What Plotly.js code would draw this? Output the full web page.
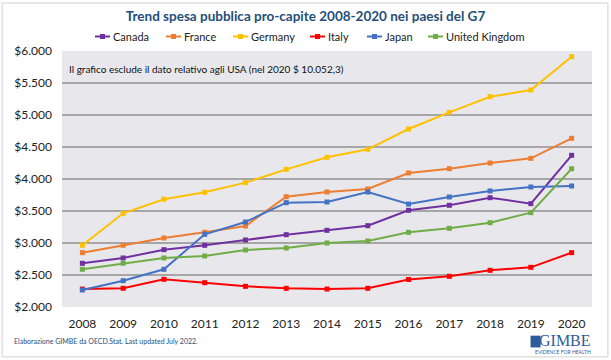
<!DOCTYPE html>
<html><head><meta charset="utf-8">
<script src="https://cdn.plot.ly/plotly-3.0.1.min.js"></script>
<style>html,body{margin:0;padding:0;background:#fff}#chart{width:611px;height:360px}</style>
</head><body><div id="chart"></div>
<script>
const years = ['2008','2009','2010','2011','2012','2013','2014','2015','2016','2017','2018','2019','2020'];
const canada  = [2683,2766,2896,2964,3047,3130,3198,3271,3511,3589,3708,3615,4370];
const france  = [2849,2964,3078,3167,3266,3724,3797,3844,4094,4161,4250,4323,4636];
const germany = [2965,3464,3683,3792,3943,4151,4339,4464,4781,5042,5286,5391,5911];
const italy   = [2280,2292,2433,2380,2323,2292,2281,2292,2430,2480,2573,2620,2849];
const japan   = [2266,2411,2589,3136,3328,3630,3641,3797,3609,3719,3813,3875,3891];
const uk      = [2589,2683,2766,2797,2891,2922,3000,3031,3167,3229,3317,3474,4161];
const seriesNames = ['Canada','France','Germany','Italy','Japan','United Kingdom'];
const seriesData = [canada, france, germany, italy, japan, uk];
const colors = ['#7030A0','#ED7D31','#FFC000','#FF0000','#4472C4','#70AD47'];
const yTicks = [2000,2500,3000,3500,4000,4500,5000,5500,6000];
const yTickText = ['$2.000','$2.500','$3.000','$3.500','$4.000','$4.500','$5.000','$5.500','$6.000'];

const traces = seriesNames.map((n,i)=>({
  type:'scatter', mode:'lines+markers', name:n, x:years, y:seriesData[i],
  line:{color:colors[i], width:2}, marker:{symbol:'square', size:5, color:colors[i]}
}));

// layout geometry (pixels)
const W = 611, H = 360, ML = 62, MR = 19, MT = 51, MB = 53;
const PW = W - ML - MR, PH = H - MT - MB;
const px = x => (x - ML) / PW;
const py = y => (H - MB - y) / PH;

// custom compact legend (Excel style): symbol start pixel per entry
const legendSymbolX = [95, 166, 233, 310, 367, 428];
const legendY = 36.5;
const legendShapes = [], legendAnn = [];
seriesNames.forEach((n,i)=>{
  const sx = legendSymbolX[i];
  legendShapes.push({type:'line', xref:'paper', yref:'paper', x0:px(sx), x1:px(sx+15), y0:py(legendY), y1:py(legendY), line:{color:colors[i], width:2}});
  legendShapes.push({type:'rect', xref:'paper', yref:'paper', x0:px(sx+5), x1:px(sx+10), y0:py(legendY+2.5), y1:py(legendY-2.5), line:{width:0}, fillcolor:colors[i]});
  legendAnn.push({xref:'paper', yref:'paper', x:px(sx+16), y:py(legendY), xanchor:'left', yanchor:'middle', showarrow:false, text:n, font:{family:"Lato, 'Open Sans', sans-serif", size:11, color:'#222'}});
});

const font = "Lato, 'Open Sans', sans-serif";
const layout = {
  width:W, height:H,
  margin:{l:ML, r:MR, t:MT, b:MB},
  paper_bgcolor:'#ffffff', plot_bgcolor:'#E8E8EC',
  font:{family:font, size:12, color:'#222'},
  title:{text:'<b>Trend spesa pubblica pro-capite 2008-2020 nei paesi del G7</b>', font:{family:font, size:13.5, color:'#1F4E79'}, x:0.5, xanchor:'center', y:0.955, yanchor:'middle'},
  showlegend:false,
  xaxis:{type:'category', range:[-0.5,12.5], showgrid:false, zeroline:false, ticks:'', tickfont:{size:12, color:'#222'}, ticklabelstandoff:8, fixedrange:true},
  yaxis:{range:[2000,6000], tickmode:'array', tickvals:yTicks, ticktext:yTickText, showgrid:true, gridcolor:'#A6A6A6', gridwidth:2, zeroline:false, ticks:'', tickfont:{size:12, color:'#222'}, ticklabelstandoff:9},
  annotations:[
    {xref:'paper', yref:'paper', x:0.01, y:0.93, xanchor:'left', yanchor:'middle', showarrow:false, text:'Il grafico esclude il dato relativo agli USA (nel 2020 $ 10.052,3)', font:{family:font, size:10, color:'#111'}},
    {xref:'paper', yref:'paper', x:-0.095, y:-0.133, xanchor:'left', yanchor:'middle', showarrow:false, text:'Elaborazione GIMBE da OECD.Stat. Last updated July 2022.', font:{family:font, size:7, color:'#1F4E79'}},
    {xref:'paper', yref:'paper', x:1.0, y:-0.132, xanchor:'right', yanchor:'middle', showarrow:false, borderpad:0, text:'GIMBE', font:{family:"'Liberation Serif', serif", size:16, color:'#2E5C9A'}},
    {xref:'paper', yref:'paper', x:1.0, y:-0.175, xanchor:'right', yanchor:'middle', showarrow:false, borderpad:0, text:'EVIDENCE FOR HEALTH', font:{family:font, size:5, color:'#2E5C9A'}}
  ].concat(legendAnn),
  shapes:[
    {type:'rect', xref:'paper', yref:'paper', x0:-0.113, x1:1.030, y0:-0.195, y1:1.1875, line:{color:'#D0D0D0', width:1}, fillcolor:'rgba(0,0,0,0)', layer:'below'},
    {type:'rect', xref:'paper', yref:'paper', x0:0.884, x1:0.903, y0:-0.158, y1:-0.112, line:{width:0}, fillcolor:'#2E5C9A'}
  ].concat(legendShapes)
};
Plotly.newPlot('chart', traces, layout, {displayModeBar:false, staticPlot:true});
</script></body></html>
